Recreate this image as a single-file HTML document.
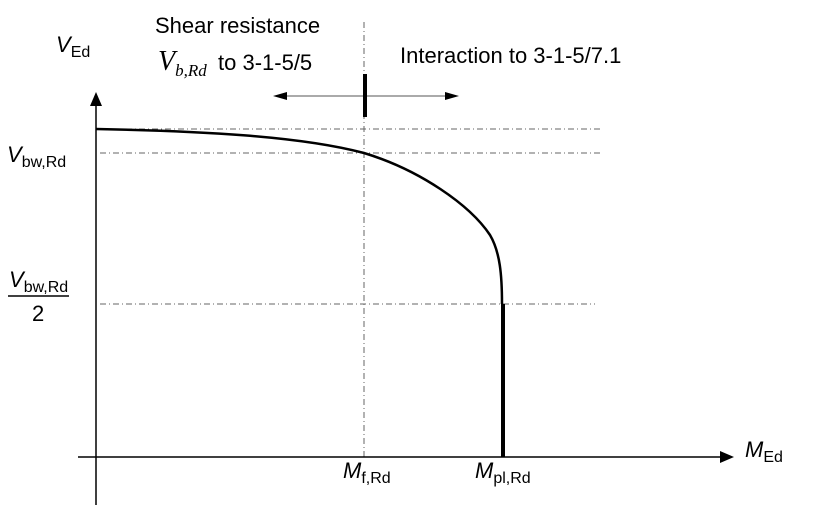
<!DOCTYPE html>
<html><head><style>
body{margin:0;background:#fff}
svg{display:block}
text{font-family:"Liberation Sans",sans-serif;fill:#000}
.s{font-size:16px}
.b{font-size:22px}
</style></head><body>
<svg width="834" height="516" viewBox="0 0 834 516">
<g stroke="#666" stroke-width="1" stroke-dasharray="6,3,1,3" fill="none">
<line x1="364" y1="22" x2="364" y2="457"/>
<line x1="100" y1="129" x2="600" y2="129"/>
<line x1="100" y1="153" x2="600" y2="153"/>
<line x1="100" y1="304" x2="595" y2="304"/>
</g>
<line x1="96" y1="505" x2="96" y2="104" stroke="#000" stroke-width="1.5"/>
<polygon points="96,92 90,106 102,106" fill="#000"/>
<line x1="78" y1="457" x2="722" y2="457" stroke="#000" stroke-width="1.5"/>
<polygon points="734,457 720,451 720,463" fill="#000"/>
<line x1="284" y1="96" x2="448" y2="96" stroke="#555" stroke-width="1"/>
<polygon points="273,96 287,92 287,100" fill="#000"/>
<polygon points="459,96 445,92 445,100" fill="#000"/>
<line x1="365" y1="74" x2="365" y2="117" stroke="#000" stroke-width="4"/>
<path d="M96,129 C200,131 300,136 364,153 C420,170 470,205 490,235 C500,252 502,275 502,304" stroke="#000" stroke-width="2.5" fill="none"/>
<line x1="503" y1="304" x2="503" y2="457" stroke="#000" stroke-width="4"/>
<text class="b" x="155" y="33">Shear resistance</text>
<text x="158" y="70" style="font-family:'Liberation Serif',serif;font-style:italic;font-size:28px">V<tspan font-size="17" dy="6">b,Rd</tspan></text>
<text class="b" x="218" y="70">to 3-1-5/5</text>
<text class="b" x="400" y="63">Interaction to 3-1-5/7.1</text>
<text class="b" x="56" y="52"><tspan font-style="italic">V</tspan><tspan class="s" dy="5">Ed</tspan></text>
<text class="b" x="7" y="162"><tspan font-style="italic">V</tspan><tspan class="s" dy="5">bw,Rd</tspan></text>
<text class="b" x="9" y="287"><tspan font-style="italic">V</tspan><tspan class="s" dy="5">bw,Rd</tspan></text>
<line x1="8" y1="296" x2="69" y2="296" stroke="#000" stroke-width="1.5"/>
<text class="b" x="32" y="321">2</text>
<text class="b" x="343" y="478"><tspan font-style="italic">M</tspan><tspan class="s" dy="5">f,Rd</tspan></text>
<text class="b" x="475" y="478"><tspan font-style="italic">M</tspan><tspan class="s" dy="5">pl,Rd</tspan></text>
<text class="b" x="745" y="457"><tspan font-style="italic">M</tspan><tspan class="s" dy="5">Ed</tspan></text>
</svg>
</body></html>
